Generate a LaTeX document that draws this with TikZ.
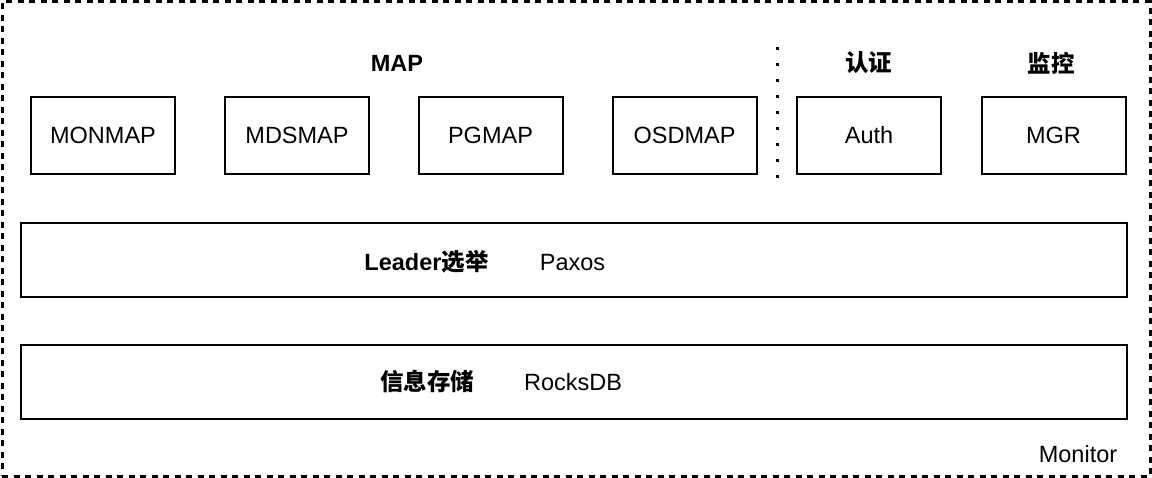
\documentclass[tikz,border=0pt]{standalone}
\usepackage{fontspec}
\setmainfont{Liberation Sans}
\newfontfamily\cjk{Noto Sans CJK SC}
\begin{document}
\begin{tikzpicture}[x=1pt,y=-1pt,
  every node/.style={font=\fontsize{23.5}{27}\selectfont, inner sep=0pt},
  mapbox/.style={draw, line width=2pt, minimum width=144pt, minimum height=77pt},
  layer/.style={draw, line width=2pt, minimum width=1106pt, minimum height=74pt},
  ttl/.style={font=\fontsize{23.5}{27}\selectfont\bfseries},
  cjkttl/.style={font=\fontsize{23.5}{27}\selectfont\cjk\bfseries}]
\useasboundingbox (0,0) rectangle (1152,478);
\node[draw, dash pattern=on 6pt off 5.5pt, line width=3pt, minimum width=1148pt, minimum height=474pt] (monitor) at (576,239) {};
\node[anchor=base] (montxt) at (1078,462) {Monitor};
% map boxes
\node[mapbox] (monmap) at (103,135.5) {MONMAP};
\node[mapbox] (mdsmap) at (297,135.5) {MDSMAP};
\node[mapbox] (pgmap) at (490.5,135.5) {PGMAP};
\node[mapbox] (osdmap) at (684.5,135.5) {OSDMAP};
\node[mapbox] (auth) at (869,135.5) {Auth};
\node[mapbox] (mgr) at (1053.5,135.5) {MGR};
% titles
\node[ttl] (maptitle) at (397,63) {MAP};
\node[cjkttl] (authtitle) at (868.5,63) {认证};
\node[cjkttl] (mgrtitle) at (1051,63) {监控};
% separator
\coordinate (septop) at (777,47);
\coordinate (sepbot) at (777,180);
\draw[line width=3pt, dash pattern=on 3pt off 13pt] (septop) -- (sepbot);
% layers
\node[layer] (leader) at (574,260) {};
\node[layer] (store) at (574,382) {};
\node[anchor=base] (leadertxt) at (426.5,271) {\bfseries Leader{\cjk 选举}};
\node[anchor=base] (paxos) at (572.5,271) {Paxos};
\node[anchor=base] (storetxt) at (427,391) {\cjk\bfseries 信息存储};
\node[anchor=base] (rocks) at (573,391) {RocksDB};
\end{tikzpicture}
\end{document}
